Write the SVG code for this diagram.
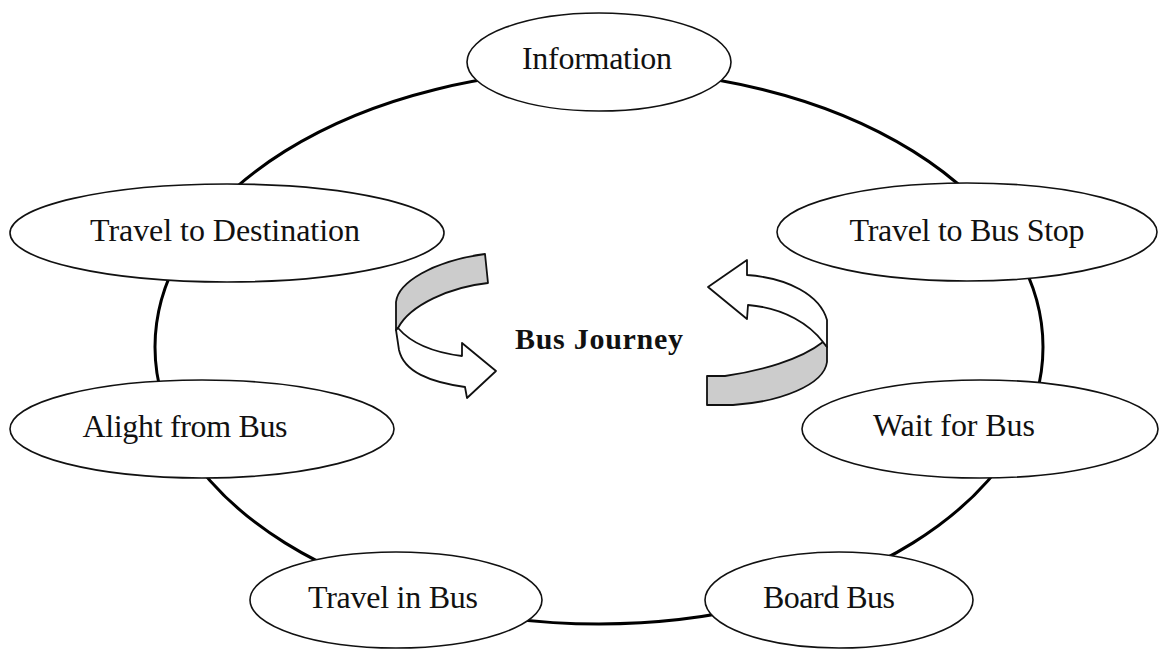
<svg xmlns="http://www.w3.org/2000/svg" width="1159" height="650" viewBox="0 0 1159 650">
<style>
.node{fill:#fff;stroke:#111;stroke-width:1.6}
.lbl{font-family:"Liberation Serif","Times New Roman",serif;font-size:32px;fill:#111;text-anchor:middle}
.title{font-family:"Liberation Serif","Times New Roman",serif;font-size:30px;font-weight:bold;fill:#111;text-anchor:middle}
.ring{fill:none;stroke:#000;stroke-width:3}
.band{stroke:#111;stroke-width:1.8;stroke-linejoin:round}
.gray{fill:#cccccc}
.white{fill:#fff}
</style>
<rect width="1159" height="650" fill="#fff"/>
<g id="connectors">
<ellipse class="ring" cx="599" cy="347" rx="444" ry="277"/>
</g>
<g id="arrow-left">
<path class="band gray" d="M396,330 L396,302 C398,283 432,261 485,254 L488,283 C450,287 410,305 398,328 Z"/>
<path class="band white" d="M398,328 C410,342 430,352 462,356 L462,343 L496,371 L467,398 L465,387 C430,382 404,372 399,350 L396,330 Z"/>
</g>
<g id="arrow-right">
<path class="band gray" d="M707,376 L725,376 C760,371 800,360 823,342 L827,347 L827,362 C824,385 780,402 733,405 L707,405 Z"/>
<path class="band white" d="M823,342 C810,325 785,308 748,305 L747,319 L708,287 L747,260 L747,275 C788,278 820,295 827,320 L827,347 Z"/>
</g>
<g id="node-information">
<ellipse class="node" cx="599" cy="62" rx="132" ry="49"/>
<text class="lbl" x="597" y="69" textLength="150">Information</text>
</g>
<g id="node-travel-destination">
<ellipse class="node" cx="227" cy="233" rx="217" ry="49"/>
<text class="lbl" x="225" y="241" textLength="270">Travel to Destination</text>
</g>
<g id="node-travel-busstop">
<ellipse class="node" cx="967" cy="232" rx="190" ry="49"/>
<text class="lbl" x="967" y="241" textLength="235">Travel to Bus Stop</text>
</g>
<g id="node-alight">
<ellipse class="node" cx="202" cy="429" rx="192" ry="49"/>
<text class="lbl" x="185" y="437" textLength="205">Alight from Bus</text>
</g>
<g id="node-wait">
<ellipse class="node" cx="980" cy="429" rx="178" ry="49"/>
<text class="lbl" x="954" y="436" textLength="162">Wait for Bus</text>
</g>
<g id="node-travel-in-bus">
<ellipse class="node" cx="396" cy="600" rx="146" ry="48"/>
<text class="lbl" x="393" y="608" textLength="170">Travel in Bus</text>
</g>
<g id="node-board">
<ellipse class="node" cx="839" cy="600" rx="134" ry="48"/>
<text class="lbl" x="829" y="608" textLength="132">Board Bus</text>
</g>
<g id="center-label">
<text class="title" x="599" y="349" textLength="168">Bus Journey</text>
</g>
</svg>
